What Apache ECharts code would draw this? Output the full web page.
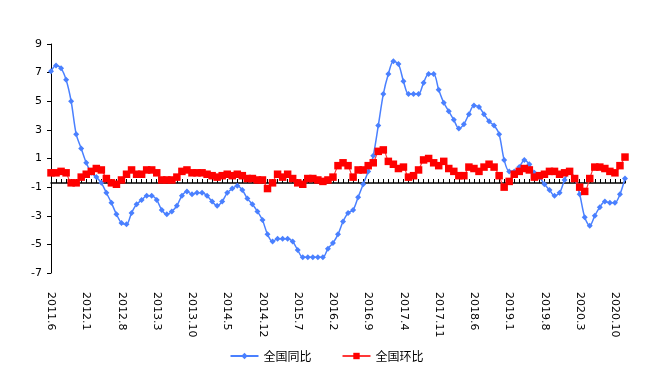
<!DOCTYPE html>
<html>
<head>
<meta charset="utf-8">
<script src="https://cdn.jsdelivr.net/npm/echarts@6/dist/echarts.min.js"></script>
<style>
html,body{margin:0;padding:0;background:#fff;}
#c{width:653px;height:384px;}
</style>
</head>
<body>
<div id="c"></div>
<script>
var categories = [
"2011.6","2011.7","2011.8","2011.9","2011.10","2011.11","2011.12",
"2012.1","2012.2","2012.3","2012.4","2012.5","2012.6","2012.7","2012.8","2012.9","2012.10","2012.11","2012.12",
"2013.1","2013.2","2013.3","2013.4","2013.5","2013.6","2013.7","2013.8","2013.9","2013.10","2013.11","2013.12",
"2014.1","2014.2","2014.3","2014.4","2014.5","2014.6","2014.7","2014.8","2014.9","2014.10","2014.11","2014.12",
"2015.1","2015.2","2015.3","2015.4","2015.5","2015.6","2015.7","2015.8","2015.9","2015.10","2015.11","2015.12",
"2016.1","2016.2","2016.3","2016.4","2016.5","2016.6","2016.7","2016.8","2016.9","2016.10","2016.11","2016.12",
"2017.1","2017.2","2017.3","2017.4","2017.5","2017.6","2017.7","2017.8","2017.9","2017.10","2017.11","2017.12",
"2018.1","2018.2","2018.3","2018.4","2018.5","2018.6","2018.7","2018.8","2018.9","2018.10","2018.11","2018.12",
"2019.1","2019.2","2019.3","2019.4","2019.5","2019.6","2019.7","2019.8","2019.9","2019.10","2019.11","2019.12",
"2020.1","2020.2","2020.3","2020.4","2020.5","2020.6","2020.7","2020.8","2020.9","2020.10","2020.11","2020.12"
];

var yoy = [
7.1,7.5,7.3,6.5,5.0,2.7,1.7,
0.7,0.0,-0.3,-0.7,-1.4,-2.1,-2.9,-3.5,-3.6,-2.8,-2.2,-1.9,
-1.6,-1.6,-1.9,-2.6,-2.9,-2.7,-2.3,-1.6,-1.3,-1.5,-1.4,-1.4,
-1.6,-2.0,-2.3,-2.0,-1.4,-1.1,-0.9,-1.2,-1.8,-2.2,-2.7,-3.3,
-4.3,-4.8,-4.6,-4.6,-4.6,-4.8,-5.4,-5.9,-5.9,-5.9,-5.9,-5.9,
-5.3,-4.9,-4.3,-3.4,-2.8,-2.6,-1.7,-0.8,0.1,1.2,3.3,5.5,
6.9,7.8,7.6,6.4,5.5,5.5,5.5,6.3,6.9,6.9,5.8,4.9,
4.3,3.7,3.1,3.4,4.1,4.7,4.6,4.1,3.6,3.3,2.7,0.9,
0.1,0.1,0.4,0.9,0.6,0.0,-0.3,-0.8,-1.2,-1.6,-1.4,-0.5,
0.1,-0.4,-1.5,-3.1,-3.7,-3.0,-2.4,-2.0,-2.1,-2.1,-1.5,-0.4
];

var mom = [
0.0,0.0,0.1,0.0,-0.7,-0.7,-0.3,
-0.1,0.1,0.3,0.2,-0.4,-0.7,-0.8,-0.5,-0.1,0.2,-0.1,-0.1,
0.2,0.2,0.0,-0.5,-0.5,-0.5,-0.3,0.1,0.2,0.0,0.0,0.0,
-0.1,-0.2,-0.3,-0.2,-0.1,-0.2,-0.1,-0.2,-0.4,-0.4,-0.5,-0.5,
-1.1,-0.7,-0.1,-0.3,-0.1,-0.4,-0.7,-0.8,-0.4,-0.4,-0.5,-0.6,
-0.5,-0.3,0.5,0.7,0.5,-0.3,0.2,0.2,0.5,0.7,1.5,1.6,
0.8,0.6,0.3,0.4,-0.3,-0.2,0.2,0.9,1.0,0.7,0.5,0.8,
0.3,0.1,-0.2,-0.2,0.4,0.3,0.1,0.4,0.6,0.4,-0.2,-1.0,
-0.6,-0.1,0.1,0.3,0.2,-0.3,-0.2,-0.1,0.1,0.1,-0.1,0.0,
0.1,-0.4,-1.0,-1.3,-0.4,0.4,0.4,0.3,0.1,0.0,0.5,1.1
];

var seriesNames = ["全国同比","全国环比"];
var yTicks = {min: -7, max: 9, interval: 2};

var chart = echarts.init(document.getElementById('c'), null, {renderer: 'canvas'});
var font = 'DejaVu Sans';
chart.setOption({
  animation: false,
  backgroundColor: '#ffffff',
  grid: {left: 51, right: 28, top: 44, bottom: 111, containLabel: false},
  legend: {
    bottom: 17,
    left: 'center',
    itemWidth: 28,
    itemHeight: 8,
    itemGap: 30,
    textStyle: {fontFamily: 'Noto Sans CJK SC', fontSize: 12, color: '#000'},
    data: seriesNames
  },
  xAxis: [{
    type: 'category',
    data: categories,
    boundaryGap: false,
    position: 'bottom',
    axisLine: {show: false},
    axisTick: {show: false},
    splitLine: {show: false},
    axisLabel: {
      interval: 6,
      rotate: -90,
      margin: 19,
      fontFamily: font,
      fontSize: 11,
      color: '#000'
    }
  }, {
    type: 'category',
    data: categories,
    boundaryGap: false,
    position: 'bottom',
    offset: -90,
    axisLine: {show: true, onZero: false, lineStyle: {color: '#000', width: 1.5}},
    axisTick: {show: true, inside: true, length: 4, interval: 0, lineStyle: {color: '#000', width: 1}},
    axisLabel: {show: false},
    splitLine: {show: false}
  }],
  yAxis: {
    type: 'value',
    min: yTicks.min,
    max: yTicks.max,
    interval: yTicks.interval,
    axisLine: {show: true, lineStyle: {color: '#000', width: 1}},
    axisTick: {show: true, length: 4, lineStyle: {color: '#000'}},
    splitLine: {show: false},
    axisLabel: {fontFamily: font, fontSize: 11, color: '#000', margin: 9}
  },
  series: [{
    name: seriesNames[0],
    type: 'line',
    data: yoy,
    smooth: 0.3,
    symbol: 'diamond',
    symbolSize: 6,
    showAllSymbol: true,
    itemStyle: {color: '#4A80FF'},
    lineStyle: {color: '#4A80FF', width: 1.5}
  }, {
    name: seriesNames[1],
    type: 'line',
    data: mom,
    smooth: 0.3,
    symbol: 'rect',
    symbolSize: 7.5,
    showAllSymbol: true,
    itemStyle: {color: '#FF0000'},
    lineStyle: {color: '#FF3838', width: 1.2}
  }]
});
</script>
</body>
</html>
